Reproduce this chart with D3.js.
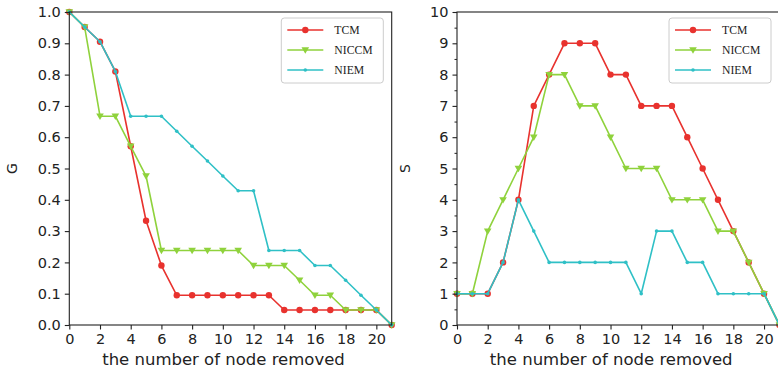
<!DOCTYPE html>
<html>
<head>
<meta charset="utf-8">
<script src="https://cdn.jsdelivr.net/npm/d3@7/dist/d3.min.js"></script>
<style>
  html, body { margin: 0; padding: 0; background: #fff; }
  svg { display: block; }
</style>
</head>
<body>
<svg id="chart" width="778" height="374"></svg>
<script>
// Number of nodes removed (x axis, shared by both panels)
const removed = d3.range(0, 22);

// G: relative size of the giant component
const gTCM   = [1.0, 0.952, 0.905, 0.810, 0.571, 0.333, 0.190, 0.095, 0.095, 0.095, 0.095,
                0.095, 0.095, 0.095, 0.048, 0.048, 0.048, 0.048, 0.048, 0.048, 0.048, 0];
const gNICCM = [1.0, 0.952, 0.667, 0.667, 0.571, 0.476, 0.238, 0.238, 0.238, 0.238, 0.238,
                0.238, 0.190, 0.190, 0.190, 0.143, 0.095, 0.095, 0.048, 0.048, 0.048, 0];
const gNIEM  = [1.0, 0.952, 0.905, 0.810, 0.667, 0.667, 0.667, 0.619, 0.571, 0.524, 0.476,
                0.429, 0.429, 0.238, 0.238, 0.238, 0.190, 0.190, 0.143, 0.095, 0.048, 0];

// S: number of connected components
const sTCM   = [1, 1, 1, 2, 4, 7, 8, 9, 9, 9, 8, 8, 7, 7, 7, 6, 5, 4, 3, 2, 1, 0];
const sNICCM = [1, 1, 3, 4, 5, 6, 8, 8, 7, 7, 6, 5, 5, 5, 4, 4, 4, 3, 3, 2, 1, 0];
const sNIEM  = [1, 1, 1, 2, 4, 3, 2, 2, 2, 2, 2, 2, 1, 3, 3, 2, 2, 1, 1, 1, 1, 0];

const xTicks = d3.range(0, 21, 2);
const gTicks = d3.range(0, 11).map(d => d / 10);
const sTicks = d3.range(0, 11);
const sMinor = d3.range(0, 10).map(d => d + 0.5);

const methods = ["TCM", "NICCM", "NIEM"];
const colors = { TCM: "#e8322e", NICCM: "#8fd23c", NIEM: "#2fc0c6" };

const svg = d3.select("#chart");
const FONT = "DejaVu Sans, sans-serif";

function marker(g, name, x, y) {
  const c = colors[name];
  if (name === "TCM") {
    g.append("circle").attr("cx", x).attr("cy", y).attr("r", 3.2).attr("fill", c);
  } else if (name === "NICCM") {
    const s = 3.8;
    g.append("path")
      .attr("d", `M${x - s},${y - s * 0.7}L${x + s},${y - s * 0.7}L${x},${y + s}Z`)
      .attr("fill", c);
  } else {
    g.append("circle").attr("cx", x).attr("cy", y).attr("r", 1.8).attr("fill", c);
  }
}

function panel(opts) {
  const { left, top, width, height, yMax, yTicks, yFmt, minor, ylabel, series, legendX } = opts;
  const g = svg.append("g").attr("transform", `translate(${left},${top})`);
  const x = d3.scaleLinear().domain([0, 21]).range([0, width]);
  const y = d3.scaleLinear().domain([0, yMax]).range([height, 0]);

  // lines and markers
  const line = d3.line().x((d, i) => x(removed[i])).y(d => y(d));
  methods.forEach(name => {
    const vals = series[name];
    g.append("path").datum(vals)
      .attr("d", line)
      .attr("fill", "none")
      .attr("stroke", colors[name])
      .attr("stroke-width", 1.6)
      .attr("stroke-linejoin", "round");
    const mg = g.append("g");
    vals.forEach((v, i) => marker(mg, name, x(removed[i]), y(v)));
  });

  // frame
  g.append("rect").attr("x", 0).attr("y", 0).attr("width", width).attr("height", height)
    .attr("fill", "none").attr("stroke", "#222").attr("stroke-width", 1.1);

  // axes
  const xAxis = g.append("g").attr("transform", `translate(0,${height})`)
    .call(d3.axisBottom(x).tickValues(xTicks).tickSize(4.5).tickPadding(4).tickFormat(d3.format("d")));
  const yAxis = g.append("g")
    .call(d3.axisLeft(y).tickValues(yTicks).tickSize(4.5).tickPadding(4).tickFormat(yFmt));
  if (minor) {
    g.append("g").call(d3.axisLeft(y).tickValues(minor).tickSize(2.5).tickFormat(""))
      .call(a => a.select(".domain").remove());
  }
  [xAxis, yAxis].forEach(a => {
    a.select(".domain").remove();
    a.selectAll("text").attr("font-family", FONT).attr("font-size", 14.5).attr("fill", "#222");
    a.selectAll("line").attr("stroke", "#222").attr("stroke-width", 1.1);
  });
  g.selectAll("line").attr("stroke", "#222");

  // axis titles
  g.append("text")
    .attr("x", width / 2 - 7).attr("y", height + 40)
    .attr("text-anchor", "middle")
    .attr("font-family", FONT).attr("font-size", 16.5).attr("fill", "#222")
    .text("the number of node removed");
  g.append("text")
    .attr("transform", `translate(${opts.ylabelX},${height / 2}) rotate(-90)`)
    .attr("text-anchor", "middle")
    .attr("font-family", FONT).attr("font-size", 14).attr("fill", "#222")
    .text(ylabel);

  // legend
  const lg = g.append("g").attr("transform", `translate(${legendX},6)`);
  lg.append("rect").attr("x", 0).attr("y", 0).attr("width", 102).attr("height", 65).attr("rx", 3)
    .attr("fill", "#fff").attr("fill-opacity", 0.85).attr("stroke", "#ccc").attr("stroke-width", 1);
  methods.forEach((name, i) => {
    const cy = 12 + i * 20;
    lg.append("line").attr("x1", 6).attr("x2", 42).attr("y1", cy).attr("y2", cy)
      .attr("stroke", colors[name]).attr("stroke-width", 1.6);
    marker(lg, name, 24, cy);
    lg.append("text").attr("x", 53).attr("y", cy + 4.5)
      .attr("font-family", "Liberation Serif, serif").attr("font-size", 13).attr("fill", "#222")
      .attr("transform", `translate(${53},0) scale(0.9,1) translate(${-53},0)`)
      .text(name);
  });
}

panel({
  left: 69.3, top: 12, width: 322.4, height: 313,
  yMax: 1, yTicks: gTicks, yFmt: d3.format(".1f"), minor: null,
  ylabel: "G", ylabelX: -52,
  series: { TCM: gTCM, NICCM: gNICCM, NIEM: gNIEM },
  legendX: 212
});

panel({
  left: 457, top: 12, width: 322.4, height: 313,
  yMax: 10, yTicks: sTicks, yFmt: d3.format("d"), minor: sMinor,
  ylabel: "S", ylabelX: -47,
  series: { TCM: sTCM, NICCM: sNICCM, NIEM: sNIEM },
  legendX: 212
});
</script>
</body>
</html>
